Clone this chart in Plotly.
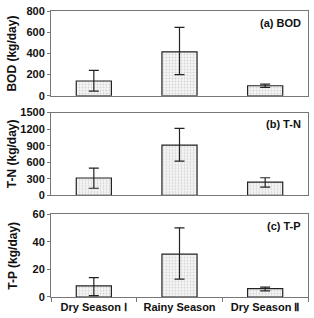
import plotly.graph_objects as go
from plotly.subplots import make_subplots

categories = ["Dry Season Ⅰ", "Rainy Season", "Dry Season Ⅱ"]
bod = [140, 415, 95]
bod_up = [100, 230, 15]
bod_dn = [95, 215, 15]
tn = [315, 910, 240]
tn_up = [180, 305, 80]
tn_dn = [185, 290, 90]
tp = [8, 31, 6]
tp_up = [6, 19, 1.2]
tp_dn = [7, 18, 1.5]
panel_labels = ["(a) BOD", "(b) T-N", "(c) T-P"]
y_titles = ["BOD (kg/day)", "T-N (kg/day)", "T-P (kg/day)"]
y_ranges = [[0, 800], [0, 1500], [0, 60]]
y_ticks = [[0, 200, 400, 600, 800], [0, 300, 600, 900, 1200, 1500], [0, 20, 40, 60]]

fig = make_subplots(rows=3, cols=1, shared_xaxes=False)
series = [(bod, bod_up, bod_dn), (tn, tn_up, tn_dn), (tp, tp_up, tp_dn)]
for i, (v, up, dn) in enumerate(series):
    fig.add_trace(go.Bar(
        x=categories, y=v, width=0.41,
        marker=dict(color="#f6f6f6", line=dict(color="#222", width=1.2),
                    pattern=dict(shape=".", fgcolor="#b0b0b0", bgcolor="#f6f6f6", size=3, solidity=0.3)),
        error_y=dict(type="data", symmetric=False, array=up, arrayminus=dn,
                     color="#222", thickness=1.2, width=5),
        showlegend=False), row=i + 1, col=1)

domains = [[0.7034, 1.0], [0.3552, 0.6448], [0.0, 0.2897]]
font = dict(family="Liberation Sans, Arial", size=11, color="#111", weight="bold")
tfont = dict(family="Liberation Sans, Arial", size=12, color="#111", weight="bold")
for i in range(3):
    xa = "xaxis" if i == 0 else f"xaxis{i+1}"
    ya = "yaxis" if i == 0 else f"yaxis{i+1}"
    fig.layout[ya].update(domain=domains[i], range=y_ranges[i], tickvals=y_ticks[i],
                          showgrid=False, zeroline=False, showline=True, mirror=True,
                          linecolor="#777", linewidth=1, ticks="outside", ticklen=3,
                          tickcolor="#777", tickfont=font)
    fig.layout[xa].update(showline=True, mirror=True, linecolor="#777", linewidth=1,
                          showgrid=False, tickson="boundaries", ticks="outside" if i == 2 else "",
                          ticklen=4, tickcolor="#777",
                          showticklabels=(i == 2), tickfont=font)
    fig.add_annotation(text=y_titles[i], xref="paper", yref="paper",
                       x=(12 - 51) / 258, y=(domains[i][0] + domains[i][1]) / 2,
                       xanchor="center", yanchor="middle", textangle=-90,
                       showarrow=False, font=tfont)
    fig.add_annotation(text=panel_labels[i], xref=f"{xa.replace('axis','')} domain" if i else "x domain",
                       yref=f"{ya.replace('axis','')} domain" if i else "y domain",
                       x=0.98, y=0.86, xanchor="right", yanchor="middle",
                       showarrow=False, font=font)

fig.update_layout(width=314, height=318, margin=dict(l=51, r=5, t=7, b=21),
                  plot_bgcolor="white", paper_bgcolor="white", bargap=0.59)
fig.write_html("out.html")
